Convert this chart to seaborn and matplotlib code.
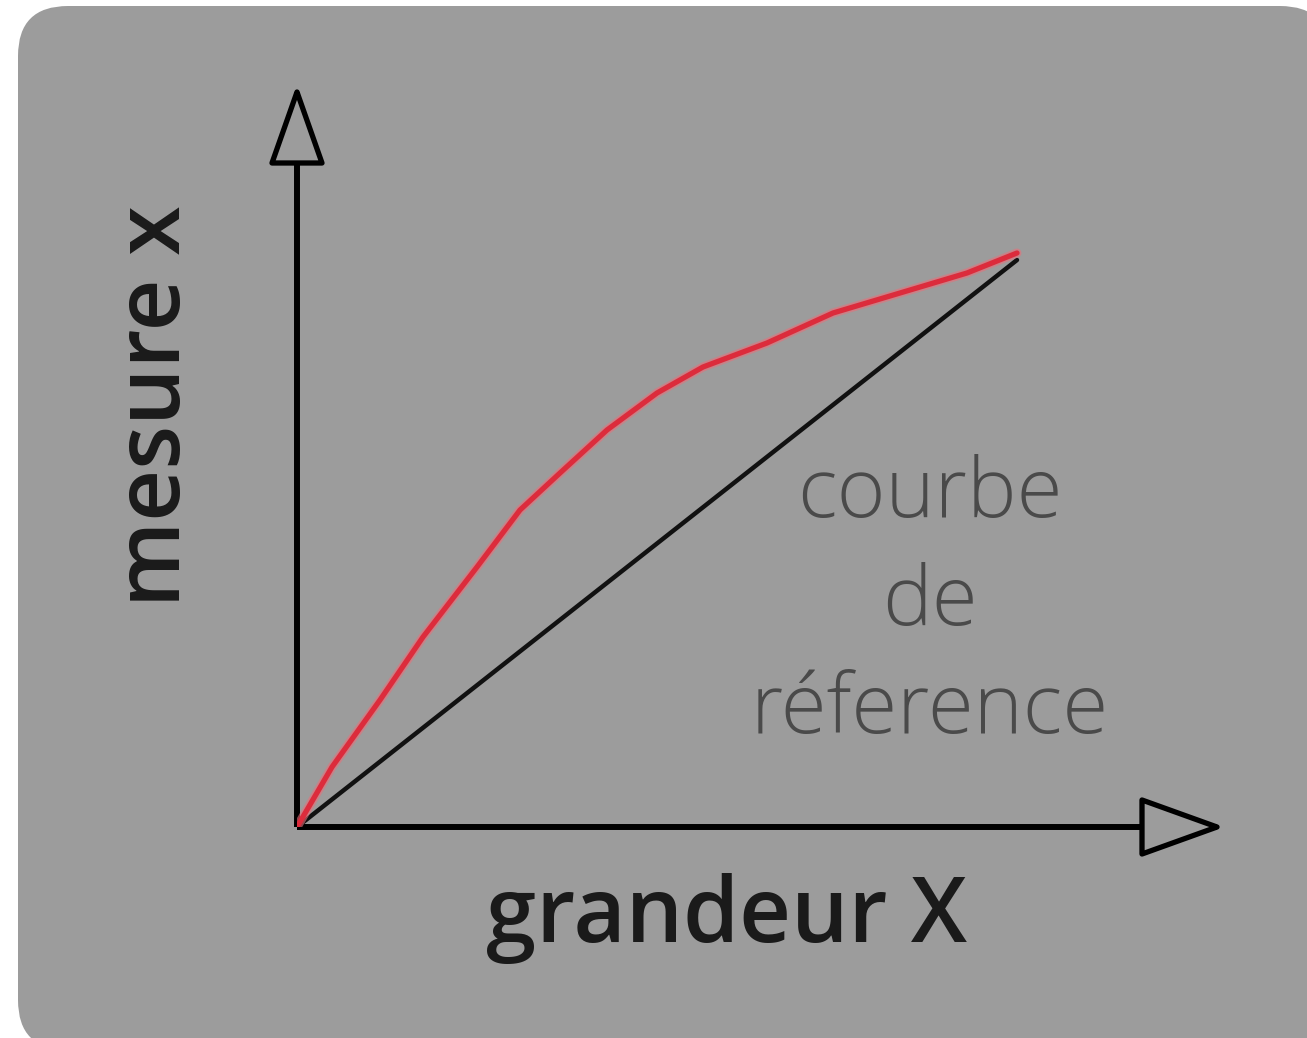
import numpy as np
import pandas as pd
import matplotlib
matplotlib.use("Agg")
import matplotlib.pyplot as plt
from matplotlib.patches import FancyBboxPatch, Polygon
import seaborn as sns

# points (x in "grandeur X" units, y in "mesure x" units)
mesure_x = [0.0, 0.35, 0.83, 1.26, 1.80, 2.23, 2.63, 3.10, 3.60, 4.06, 4.70, 5.36, 6.03, 6.70, 7.20]
mesure_y = [0.0, 0.60, 1.27, 1.90, 2.60, 3.17, 3.54, 3.97, 4.34, 4.60, 4.84, 5.14, 5.34, 5.54, 5.74]
reference_x = [0.0, 7.20]
reference_y = [0.0, 5.67]

x_label = "grandeur X"
y_label = "mesure x"
ref_lines = ["courbe", "de", "réference"]

bg_gray = "#9c9c9c"

sns.set_style("white")
plt.rcParams["font.family"] = ["Open Sans", "DejaVu Sans"]

fig = plt.figure(figsize=(13.07, 10.38), dpi=100)
fig.patch.set_facecolor("white")

# rounded grey card behind everything (pixel coordinates)
bg = fig.add_axes([0, 0, 1, 1], zorder=0)
bg.set_xlim(0, 1307)
bg.set_ylim(1038, 0)
bg.axis("off")
bg.add_patch(FancyBboxPatch((18, 6), 1312, 1044,
                            boxstyle="round,pad=0,rounding_size=50",
                            fc=bg_gray, ec="none"))

# main axes: origin at the corner of the two arrows
ax = fig.add_axes([297 / 1307, 211 / 1038, 920 / 1307, 735 / 1038], zorder=1)
ax.set_facecolor("none")
ax.set_xlim(0, 9.2)
ax.set_ylim(0, 7.35)
ax.set_xticks([])
ax.set_yticks([])
for side in ["top", "right"]:
    ax.spines[side].set_visible(False)
for side in ["left", "bottom"]:
    ax.spines[side].set_color("black")
    ax.spines[side].set_linewidth(4.3)
    ax.spines[side].set_capstyle("butt")

sns.lineplot(x=reference_x, y=reference_y, ax=ax, color="#111111", lw=3.2,
             sort=False, estimator=None)
# soft pink halo under the red stroke, like the blurred original
sns.lineplot(x=mesure_x, y=mesure_y, ax=ax, color="#e8707a", lw=6.5, alpha=0.6,
             sort=False, estimator=None, zorder=3)
sns.lineplot(x=mesure_x, y=mesure_y, ax=ax, color="#dc2c3c", lw=3.8,
             sort=False, estimator=None, zorder=3)

# hollow arrow heads
ax.add_patch(Polygon([(0, 7.35), (-0.25, 6.64), (0.25, 6.64)], closed=True,
                     fc=bg_gray, ec="black", lw=3.8, joinstyle="round",
                     clip_on=False, zorder=4))
ax.add_patch(Polygon([(9.2, 0), (8.45, 0.27), (8.45, -0.27)], closed=True,
                     fc=bg_gray, ec="black", lw=3.8, joinstyle="round",
                     clip_on=False, zorder=4))

ax.text(4.29, -1.15, x_label, ha="center", va="baseline", fontsize=65,
        fontweight="semibold", color="#1a1a1a", clip_on=False)
ax.text(-1.17, 4.21, y_label, ha="center", va="baseline", rotation=90,
        rotation_mode="anchor", fontsize=65, fontweight="semibold",
        color="#1a1a1a", clip_on=False)

for i, line in enumerate(ref_lines):
    ax.text(6.33, 3.10 - 1.08 * i, line, ha="center", va="baseline",
            fontsize=60, fontweight="light", color="#4a4a4a")

fig.savefig("out.png", dpi=100, facecolor=fig.get_facecolor())
